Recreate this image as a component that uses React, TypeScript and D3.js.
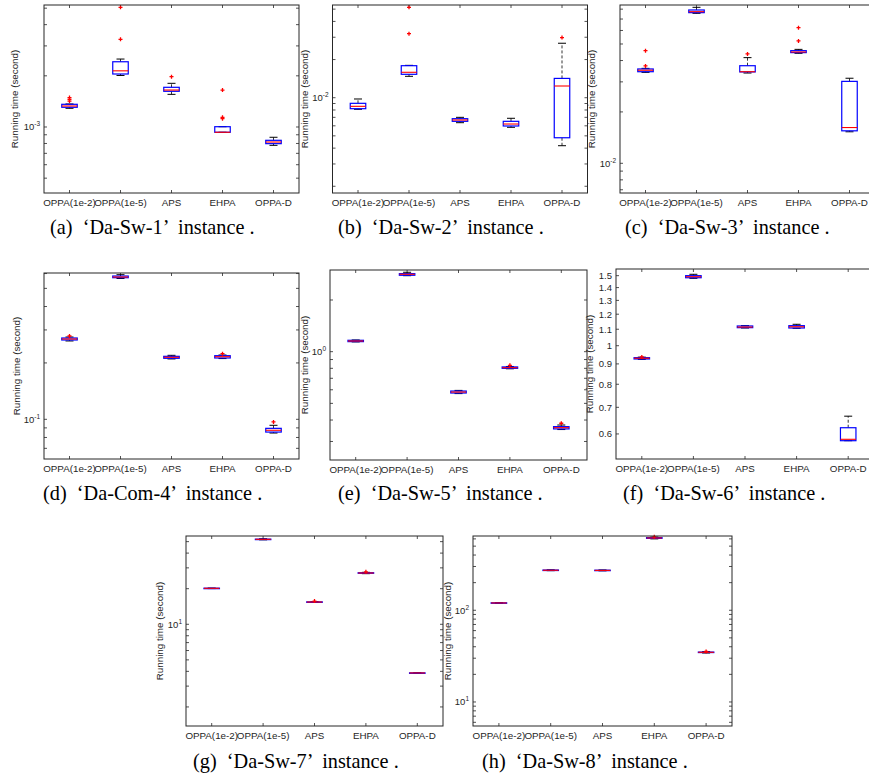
import React from "react";
import * as d3 from "d3";

const categories = ["OPPA(1e-2)", "OPPA(1e-5)", "APS", "EHPA", "OPPA-D"];

// each row: [lower whisker, q1, median, q3, upper whisker]
const statsDaSw1 = [
  [1.288e-3, 1.306e-3, 1.329e-3, 1.36e-3, 1.366e-3],
  [2.01e-3, 2.05e-3, 2.14e-3, 2.42e-3, 2.51e-3],
  [1.556e-3, 1.622e-3, 1.65e-3, 1.712e-3, 1.807e-3],
  [0.931e-3, 0.931e-3, 0.931e-3, 1.004e-3, 1.004e-3],
  [0.78e-3, 0.798e-3, 0.816e-3, 0.835e-3, 0.87e-3],
];
const outliersDaSw1 = [[1.42e-3, 1.455e-3, 1.49e-3], [3.28e-3, 5.06e-3], [1.977e-3], [1.119e-3, 1.14e-3, 1.65e-3], []];

const statsDaSw2 = [
  [0.81e-2, 0.819e-2, 0.855e-2, 0.903e-2, 0.977e-2],
  [1.475e-2, 1.53e-2, 1.587e-2, 1.789e-2, 1.8e-2],
  [0.635e-2, 0.651e-2, 0.667e-2, 0.683e-2, 0.7e-2],
  [0.584e-2, 0.598e-2, 0.62e-2, 0.651e-2, 0.688e-2],
  [0.418e-2, 0.483e-2, 1.237e-2, 1.42e-2, 2.69e-2],
];
const outliersDaSw2 = [[], [3.2e-2, 5.17e-2], [], [], [2.98e-2]];

const statsDaSw3 = [
  [3.41e-2, 3.44e-2, 3.51e-2, 3.57e-2, 3.6e-2],
  [7.56e-2, 7.63e-2, 7.73e-2, 7.91e-2, 8.2e-2],
  [3.38e-2, 3.43e-2, 3.44e-2, 3.73e-2, 4.16e-2],
  [4.41e-2, 4.45e-2, 4.49e-2, 4.57e-2, 4.65e-2],
  [1.53e-2, 1.55e-2, 1.62e-2, 3.02e-2, 3.15e-2],
];
const outliersDaSw3 = [[3.72e-2, 4.57e-2], [], [4.37e-2], [5.21e-2, 6.23e-2], []];

const statsDaCom4 = [
  [0.262, 0.2651, 0.2684, 0.2717, 0.275],
  [0.5645, 0.57, 0.575, 0.582, 0.5916],
  [0.21, 0.2117, 0.2143, 0.2169, 0.2196],
  [0.211, 0.2125, 0.2159, 0.2186, 0.2204],
  [0.0845, 0.0855, 0.0874, 0.0895, 0.0929],
];
const outliersDaCom4 = [[0.2784], [], [], [0.224], [0.0968]];

const statsDaSw5 = [
  [1.14, 1.144, 1.154, 1.165, 1.17],
  [2.77, 2.786, 2.824, 2.847, 2.9],
  [0.57, 0.5745, 0.582, 0.59, 0.595],
  [0.795, 0.8, 0.807, 0.815, 0.82],
  [0.352, 0.355, 0.361, 0.366, 0.374],
];
const outliersDaSw5 = [[], [], [], [0.833], [0.383]];

const statsDaSw6 = [
  [0.924, 0.926, 0.93, 0.933, 0.936],
  [1.477, 1.482, 1.491, 1.5, 1.512],
  [1.108, 1.11, 1.114, 1.121, 1.123],
  [1.106, 1.108, 1.116, 1.123, 1.132],
  [0.577, 0.577, 0.5817, 0.622, 0.665],
];
const outliersDaSw6 = [[0.937], [], [], [], []];
const ticksDaSw6 = [0.6, 0.7, 0.8, 0.9, 1, 1.1, 1.2, 1.3, 1.4, 1.5];

const statsDaSw7 = [
  [20.05, 20.1, 20.15, 20.2, 20.25],
  [51.8, 52.1, 52.3, 52.5, 52.9],
  [15.3, 15.38, 15.43, 15.48, 15.55],
  [26.8, 27.0, 27.15, 27.3, 27.5],
  [3.86, 3.87, 3.877, 3.885, 3.895],
];
const outliersDaSw7 = [[], [], [15.7], [27.8], []];

const statsDaSw8 = [
  [119, 119.6, 120.1, 120.6, 121.2],
  [270, 271.5, 273, 274.5, 276],
  [269, 270.5, 272, 273.5, 275],
  [600, 608, 614, 620, 628],
  [34.2, 34.6, 34.8, 35.0, 35.4],
];
const outliersDaSw8 = [[], [], [], [632], [35.5]];

const captionTags = ["(a)", "(b)", "(c)", "(d)", "(e)", "(f)", "(g)", "(h)"];
const instanceNames = ["Da-Sw-1", "Da-Sw-2", "Da-Sw-3", "Da-Com-4", "Da-Sw-5", "Da-Sw-6", "Da-Sw-7", "Da-Sw-8"];

const panels = [
  { stats: statsDaSw1, outliers: outliersDaSw1, domain: [0.409e-3, 5.22e-3], frame: [44, 299, 5, 193], ylx: 15, cap: [50, 234] },
  { stats: statsDaSw2, outliers: outliersDaSw2, domain: [0.177e-2, 5.39e-2], frame: [332.5, 587.5, 5, 193], ylx: 305, cap: [338, 234] },
  { stats: statsDaSw3, outliers: outliersDaSw3, domain: [0.67e-2, 8.46e-2], frame: [620, 875, 5, 193], ylx: 592, cap: [625, 234] },
  { stats: statsDaCom4, outliers: outliersDaCom4, domain: [0.0614, 0.604], frame: [44, 299, 273, 459], ylx: 17, cap: [43, 500] },
  { stats: statsDaSw5, outliers: outliersDaSw5, domain: [0.234, 2.99], frame: [330, 587, 270, 460], ylx: 305, cap: [338, 500] },
  { stats: statsDaSw6, outliers: outliersDaSw6, domain: [0.519, 1.559], frame: [616, 874, 269, 459], ylx: 590, cap: [623, 500], linTicks: ticksDaSw6 },
  { stats: statsDaSw7, outliers: outliersDaSw7, domain: [1.38, 55.8], frame: [186, 443, 536, 726], ylx: 160, cap: [193, 768] },
  { stats: statsDaSw8, outliers: outliersDaSw8, domain: [5.47, 645], frame: [473, 732, 536, 726], ylx: 448, cap: [482, 768] },
];

const SANS = "'Liberation Sans', Arial, Helvetica, sans-serif";
const SERIF = "'Liberation Serif', 'Times New Roman', serif";
const AX = "#262626";

function Panel({ p, idx }: { p: any; idx: number }) {
  const [x0, x1, y0, y1] = p.frame;
  const x = d3.scalePoint<string>().domain(categories).range([x0, x1]).padding(0.5);
  const y = d3.scaleLog().domain(p.domain).range([y1, y0]);
  const boxW = 15.5;
  const capW = 8;
  const tl = 3;

  const majors: { v: number; label: any }[] = [];
  const minors: number[] = [];
  const [lo, hi] = p.domain;
  if (p.linTicks) {
    p.linTicks.forEach((v: number) => majors.push({ v, label: String(v) }));
  } else {
    const e0 = Math.floor(Math.log10(lo));
    const e1 = Math.ceil(Math.log10(hi));
    for (let e = e0; e <= e1; e++) {
      for (let k = 1; k <= 9; k++) {
        const v = k * Math.pow(10, e);
        if (v < lo || v > hi) continue;
        if (k === 1) majors.push({ v, label: e });
        else minors.push(v);
      }
    }
  }

  const [cx, cy] = p.cap;
  return (
    <g>
      {[...majors.map((m) => m.v), ...minors].map((v, i) => (
        <g key={"yt" + i} stroke={AX} strokeWidth={0.8}>
          <line x1={x0} x2={x0 + tl} y1={y(v)} y2={y(v)} />
          <line x1={x1} x2={x1 - tl} y1={y(v)} y2={y(v)} />
        </g>
      ))}
      {categories.map((c) => (
        <g key={"xt" + c} stroke={AX} strokeWidth={0.8}>
          <line x1={x(c)} x2={x(c)} y1={y1} y2={y1 - tl} />
          <line x1={x(c)} x2={x(c)} y1={y0} y2={y0 + tl} />
        </g>
      ))}
      {majors.map((m, i) =>
        p.linTicks ? (
          <text key={"yl" + i} x={x0 - 4} y={y(m.v) + 3.3} textAnchor="end" fontSize={9.5} fill={AX} fontFamily={SANS}>
            {m.label}
          </text>
        ) : (
          <text key={"yl" + i} x={x0 - 4} y={y(m.v) + 3.5} textAnchor="end" fontSize={9.5} fill={AX} fontFamily={SANS}>
            10
            <tspan fontSize={6.5} dy={-4}>{m.label}</tspan>
          </text>
        )
      )}
      {categories.map((c) => (
        <text key={"xl" + c} x={x(c)} y={y1 + 13} textAnchor="middle" fontSize={9.8} fill={AX} fontFamily={SANS}>
          {c}
        </text>
      ))}
      <text
        transform={`translate(${p.ylx},${(y0 + y1) / 2}) rotate(-90)`}
        textAnchor="middle"
        dominantBaseline="middle"
        fontSize={9.8}
        fill={AX}
        fontFamily={SANS}
      >
        Running time (second)
      </text>
      {p.stats.map((s: number[], i: number) => {
        const c = categories[i];
        const xc = x(c) as number;
        const [wl, q1, md, q3, wh] = s;
        return (
          <g key={"b" + i}>
            <line x1={xc} x2={xc} y1={y(q3)} y2={y(wh)} stroke="#000" strokeWidth={0.8} strokeDasharray="3,2" />
            <line x1={xc} x2={xc} y1={y(q1)} y2={y(wl)} stroke="#000" strokeWidth={0.8} strokeDasharray="3,2" />
            <line x1={xc - capW / 2} x2={xc + capW / 2} y1={y(wh)} y2={y(wh)} stroke="#000" strokeWidth={1} />
            <line x1={xc - capW / 2} x2={xc + capW / 2} y1={y(wl)} y2={y(wl)} stroke="#000" strokeWidth={1} />
            <rect
              x={xc - boxW / 2}
              y={y(q3)}
              width={boxW}
              height={Math.max(y(q1) - y(q3), 0.5)}
              fill="none"
              stroke="#0000ff"
              strokeWidth={1.2}
            />
            <line x1={xc - boxW / 2} x2={xc + boxW / 2} y1={y(md)} y2={y(md)} stroke="#ff0000" strokeWidth={1.1} />
            {p.outliers[i].map((o: number, j: number) => (
              <path
                key={"o" + j}
                d={`M${xc - 2},${y(o)}h4M${xc},${y(o) - 2}v4`}
                stroke="#ff0000"
                strokeWidth={1.3}
                fill="none"
              />
            ))}
          </g>
        );
      })}
      <rect x={x0} y={y0} width={x1 - x0} height={y1 - y0} fill="none" stroke={AX} strokeWidth={1} />
      <text x={cx} y={cy} fontSize={20.3} fill="#000" fontFamily={SERIF} style={{ whiteSpace: "pre" }}>
        {`${captionTags[idx]}  \u2018${instanceNames[idx]}\u2019  instance .`}
      </text>
    </g>
  );
}

export default function App() {
  return (
    <div style={{ position: "absolute", left: 0, top: 0 }}>
      <svg width={869} height={775} style={{ display: "block", background: "#fff" }}>
        {panels.map((p, i) => (
          <Panel key={i} p={p} idx={i} />
        ))}
      </svg>
    </div>
  );
}
